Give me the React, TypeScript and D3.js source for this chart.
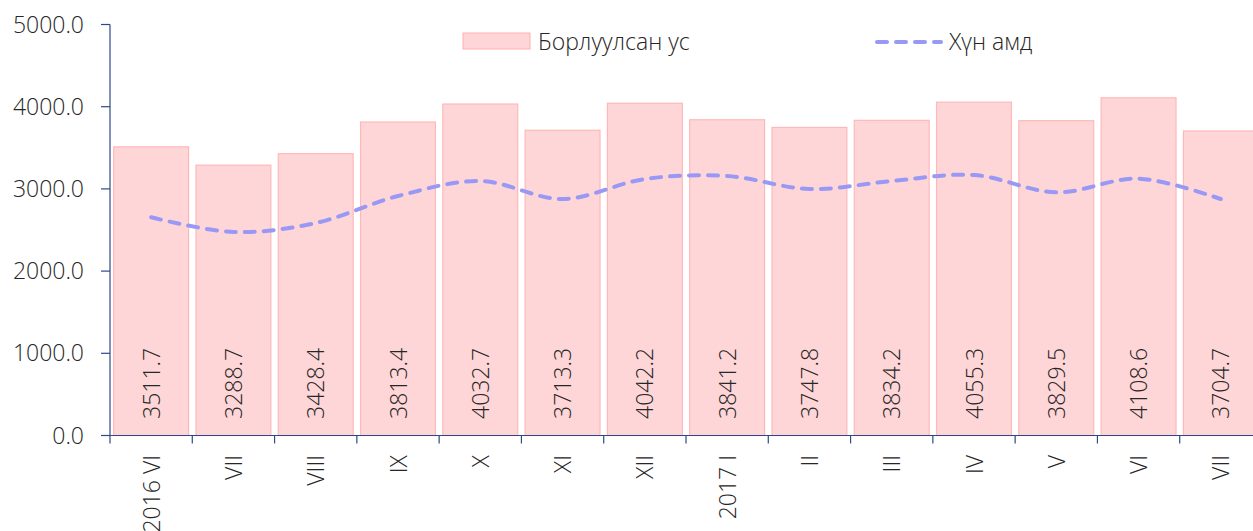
import React from "react";
import * as d3 from "d3";

const categories = ["2016 VI", "VII", "VIII", "IX", "X", "XI", "XII", "2017 I", "II", "III", "IV", "V", "VI", "VII"];
const soldWater = [3511.7, 3288.7, 3428.4, 3813.4, 4032.7, 3713.3, 4042.2, 3841.2, 3747.8, 3834.2, 4055.3, 3829.5, 4108.6, 3704.7];
const perCapita = [2655, 2476, 2585, 2913, 3096, 2877, 3120, 3157, 2998, 3096, 3169, 2958, 3125, 2877];
const yTicks = [0, 1000, 2000, 3000, 4000, 5000];
const seriesNames = ["Борлуулсан ус", "Хүн амд"];

const W = 1253, H = 531;
const FONT = "'Open Sans', sans-serif";
const FS = 23;
const TXT = "#262626";

export default function App() {
  const x = d3.scaleBand<number>().domain(d3.range(categories.length)).range([110, 1262]).paddingInner(0.09).paddingOuter(0.045);
  const step = x.step();
  const y = d3.scaleLinear().domain([0, 5000]).range([435.5, 24.5]);
  const axisColor = "#2E4A86";
  const line = d3.line<number>()
    .x((_, i) => (x(i) as number) + x.bandwidth() / 2)
    .y((d) => y(d))
    .curve(d3.curveCatmullRom.alpha(0.5));

  return (
    <svg width={W} height={H} style={{ position: "absolute", left: 0, top: 0, display: "block" }} fontFamily={FONT} fontWeight={300}>
      <rect width={W} height={H} fill="#fff" />
      {soldWater.map((v, i) => (
        <rect key={i} x={x(i)} y={y(v)} width={x.bandwidth()} height={y(0) - y(v)} fill="#FFD6D7" stroke="#FFB8B8" strokeWidth={1.2} />
      ))}
      {soldWater.map((v, i) => {
        const cx = (x(i) as number) + x.bandwidth() / 2;
        return (
          <text key={i} transform={`translate(${cx + 8.5},419) rotate(-90)`} fontSize={FS} fill={TXT} textAnchor="start">
            {v.toFixed(1)}
          </text>
        );
      })}
      <path d={line(perCapita) || ""} fill="none" stroke="#9999F5" strokeWidth={4} strokeDasharray="10 9" strokeLinecap="round" />
      {/* y axis */}
      <line x1={110} x2={110} y1={y(5000)} y2={y(0)} stroke={axisColor} strokeWidth={1.2} />
      {yTicks.map((t) => (
        <g key={t}>
          <line x1={101} x2={110} y1={y(t)} y2={y(t)} stroke={axisColor} strokeWidth={1.2} />
          <text x={84} y={y(t) + 8} textAnchor="end" fontSize={FS} fill={TXT}>{t.toFixed(1)}</text>
        </g>
      ))}
      {/* x axis */}
      <line x1={110} x2={W} y1={y(0)} y2={y(0)} stroke={axisColor} strokeWidth={1.2} />
      {d3.range(categories.length + 1).map((i) => (
        <line key={i} x1={110 + i * step} x2={110 + i * step} y1={y(0)} y2={y(0) + 8} stroke={axisColor} strokeWidth={1.2} />
      ))}
      {categories.map((c, i) => {
        const cx = (x(i) as number) + x.bandwidth() / 2;
        return (
          <text key={i} transform={`translate(${cx + 8.5},455) rotate(-90)`} fontSize={FS} fill={TXT} textAnchor="end">
            {c}
          </text>
        );
      })}
      {/* legend */}
      <rect x={463} y={33} width={67} height={16} fill="#FFD6D7" stroke="#FFB0B0" strokeWidth={1} />
      <text x={538} y={50} fontSize={FS} fill={TXT}>{seriesNames[0]}</text>
      <line x1={877} x2={941} y1={42} y2={42} stroke="#9999F5" strokeWidth={4} strokeDasharray="10 9" strokeLinecap="round" />
      <text x={949} y={50} fontSize={FS} fill={TXT}>{seriesNames[1]}</text>
    </svg>
  );
}
